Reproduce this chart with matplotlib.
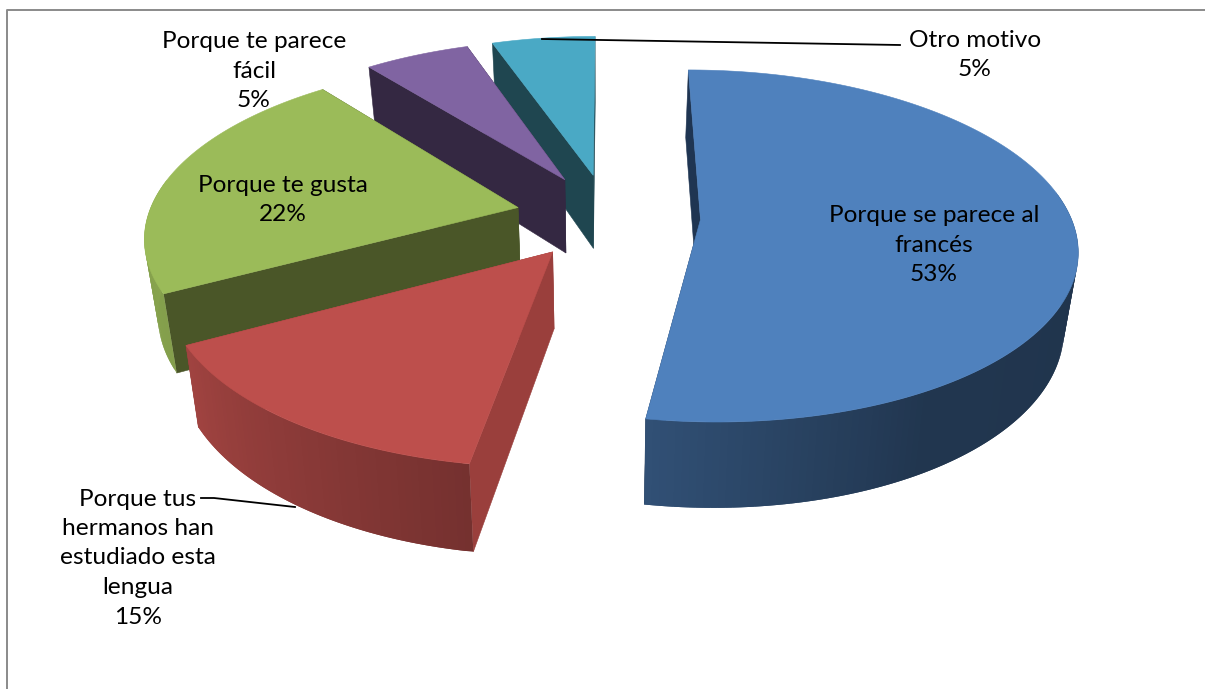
import numpy as np
import matplotlib
matplotlib.use("Agg")
import matplotlib.pyplot as plt
from matplotlib.colors import to_rgb
from matplotlib.patches import Polygon

# values
categories = ["Porque se parece al\nfrancés", "Porque tus\nhermanos han\nestudiado esta\nlengua",
              "Porque te gusta", "Porque te parece\nfácil", "Otro motivo"]
shares = [52.6, 14.5, 22.2, 5.4, 5.3]      # slice sizes as drawn
percent_labels = [53, 15, 22, 5, 5]        # rounded numbers printed on the labels
top_colors = ["#4f81bd", "#bd4f4c", "#9bbb59", "#8064a2", "#4aa9c5"]
cut_colors = ["#1f3552", "#9a3f3c", "#4a5628", "#342842", "#1f4650"]

# fake 3d view, all in pixels of the 1205x689 picture
CX, CY = 608, 216
RX, RY = 370, 171
PERSP = 0.15
EXPLODE = 0.25


def project(x, y):
    s = 1 / (1 - PERSP * y)
    return CX + RX * x * s, CY + RY * y * s


def drop(px, py):
    # bottom rim sits lower, and lines converge a bit towards the middle
    return 600 + (px - 600) * 0.97, py + 73 + (py - 175) * 0.052


def side_shade(deg):
    return np.interp(deg, [90, 150, 189, 241, 270], [0.40, 0.42, 0.62, 0.85, 0.88])


def draw_slice(ax, start, end, top_col, cut_col, z):
    mid = np.radians((start + end) / 2)
    ox, oy = EXPLODE * np.sin(mid), -EXPLODE * np.cos(mid)
    deg = np.linspace(start, end, int(end - start) + 2)
    rad = np.radians(deg)
    tx, ty = project(ox + np.sin(rad), oy - np.cos(rad))
    bx, by = drop(tx, ty)
    ax_top = project(ox, oy)
    ax_bot = drop(*ax_top)

    # the two cut faces
    for i in (0, -1):
        pts = [ax_top, (tx[i], ty[i]), (bx[i], by[i]), ax_bot]
        ax.add_patch(Polygon(pts, closed=True, fc=cut_col, ec=cut_col, lw=0.4, zorder=z))

    # outer wall, only the part facing the viewer, strips overlap so no seams show
    base = np.array(to_rgb(top_col))
    front = np.where((deg > 80) & (deg < 280))[0]
    for i in front[:-1]:
        j = min(i + 2, front[-1])
        col = base * side_shade(deg[i])
        pts = [(tx[i], ty[i]), (tx[j], ty[j]), (bx[j], by[j]), (bx[i], by[i])]
        ax.add_patch(Polygon(pts, closed=True, fc=col, ec="none", zorder=z + 0.1))

    top = [ax_top] + list(zip(tx, ty))
    ax.add_patch(Polygon(top, closed=True, fc=top_col, ec=top_col, lw=0.4, zorder=z + 0.2))


plt.rcParams["font.family"] = ["Lato", "DejaVu Sans"]
fig = plt.figure(figsize=(12.05, 6.89), dpi=100)
ax = fig.add_axes([0, 0, 1, 1])
ax.set_xlim(0, 1205)
ax.set_ylim(689, 0)
ax.axis("off")

# chart frame, only top and left fall inside the crop
ax.plot([7, 7, 1205], [689, 10, 10], color="#8a8a8a", lw=1.4, zorder=0)

edges = np.concatenate([[0], np.cumsum(shares)]) * 3.6
draw_order = [4, 3, 2, 0, 1]  # back to front
for n, idx in enumerate(draw_order):
    draw_slice(ax, edges[idx], edges[idx + 1], top_colors[idx], cut_colors[idx], 1 + n)

# leader lines
ax.plot([542, 900], [39, 45], color="black", lw=1.3, zorder=10)
ax.plot([201, 214, 295], [498, 498, 507], color="black", lw=1.3, zorder=10)

label_pos = [(934, 245), (138, 558), (283, 200), (254, 71), (975, 55)]
for name, pct, (lx, ly) in zip(categories, percent_labels, label_pos):
    ax.text(lx, ly, f"{name}\n{pct}%", ha="center", va="center", multialignment="center",
            fontsize=17.6, linespacing=1.5, color="black", zorder=11)

fig.savefig("out.png", dpi=100)
